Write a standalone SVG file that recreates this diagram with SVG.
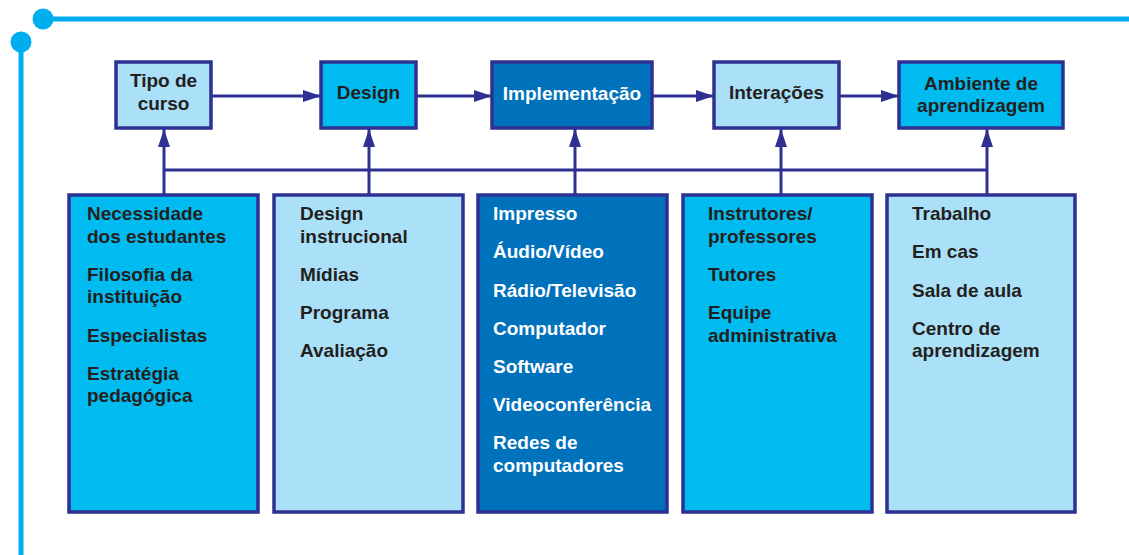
<svg xmlns="http://www.w3.org/2000/svg" width="1129" height="555" viewBox="0 0 1129 555">
<style>
.box{stroke:#2E3192;stroke-width:3.5}
.lb{fill:#ABE0F9}.cy{fill:#00BBF0}.db{fill:#0071BB}
.t{font-family:"Liberation Sans",Arial,sans-serif;font-weight:bold;font-size:19px;fill:#231F20}
.w{fill:#FFFFFF}
.c{text-anchor:middle}
.ln{stroke:#2E3192;stroke-width:3;fill:none}
.deco{stroke:#00AEEF;stroke-width:5;fill:none}
</style>
<defs>
<marker id="ah" viewBox="0 0 18 12" refX="18" refY="6" markerWidth="18" markerHeight="12" markerUnits="userSpaceOnUse" orient="auto">
<path d="M0,0 L18,6 L0,12 Z" fill="#2E3192"/>
</marker>
</defs>
<g id="decoration">
<line class="deco" x1="43" y1="19" x2="1129" y2="19"/>
<circle cx="43" cy="19" r="10.5" fill="#00AEEF"/>
<line class="deco" x1="21" y1="42" x2="21" y2="555"/>
<circle cx="21" cy="42" r="10.5" fill="#00AEEF"/>
</g>
<g id="connectors">
<line class="ln" x1="211" y1="96" x2="321" y2="96" marker-end="url(#ah)"/>
<line class="ln" x1="416" y1="96" x2="492" y2="96" marker-end="url(#ah)"/>
<line class="ln" x1="652" y1="96" x2="714" y2="96" marker-end="url(#ah)"/>
<line class="ln" x1="839" y1="96" x2="899" y2="96" marker-end="url(#ah)"/>
<line class="ln" x1="164" y1="170" x2="987" y2="170"/>
<line class="ln" x1="164" y1="195" x2="164" y2="129" marker-end="url(#ah)"/>
<line class="ln" x1="369" y1="195" x2="369" y2="129" marker-end="url(#ah)"/>
<line class="ln" x1="575" y1="195" x2="575" y2="129" marker-end="url(#ah)"/>
<line class="ln" x1="781" y1="195" x2="781" y2="129" marker-end="url(#ah)"/>
<line class="ln" x1="987" y1="195" x2="987" y2="129" marker-end="url(#ah)"/>
</g>
<g id="tipo">
<rect class="box lb" x="116" y="62" width="95" height="66"/>
<text class="t c" x="163.5" y="87">Tipo de</text>
<text class="t c" x="163.5" y="110">curso</text>
</g>
<g id="design">
<rect class="box cy" x="321" y="62" width="95" height="66"/>
<text class="t c" x="368.5" y="99">Design</text>
</g>
<g id="implementacao">
<rect class="box db" x="492" y="62" width="160" height="66"/>
<text class="t c w" x="572" y="100">Implementação</text>
</g>
<g id="interacoes">
<rect class="box lb" x="714" y="62" width="125" height="66"/>
<text class="t c" x="776.5" y="99">Interações</text>
</g>
<g id="ambiente">
<rect class="box cy" x="899" y="62" width="164" height="66"/>
<text class="t c" x="981" y="90">Ambiente de</text>
<text class="t c" x="981" y="112">aprendizagem</text>
</g>
<g id="box1">
<rect class="box cy" x="69" y="195" width="189" height="317"/>
<text class="t" x="87" y="220">Necessidade</text>
<text class="t" x="87" y="243">dos estudantes</text>
<text class="t" x="87" y="281">Filosofia da</text>
<text class="t" x="87" y="303">instituição</text>
<text class="t" x="87" y="342">Especialistas</text>
<text class="t" x="87" y="380">Estratégia</text>
<text class="t" x="87" y="402">pedagógica</text>
</g>
<g id="box2">
<rect class="box lb" x="274" y="195" width="189" height="317"/>
<text class="t" x="300" y="220">Design</text>
<text class="t" x="300" y="243">instrucional</text>
<text class="t" x="300" y="281">Mídias</text>
<text class="t" x="300" y="319">Programa</text>
<text class="t" x="300" y="357">Avaliação</text>
</g>
<g id="box3">
<rect class="box db" x="478" y="195" width="189" height="317"/>
<text class="t w" x="493" y="220">Impresso</text>
<text class="t w" x="493" y="258">Áudio/Vídeo</text>
<text class="t w" x="493" y="297">Rádio/Televisão</text>
<text class="t w" x="493" y="335">Computador</text>
<text class="t w" x="493" y="373">Software</text>
<text class="t w" x="493" y="411">Videoconferência</text>
<text class="t w" x="493" y="449">Redes de</text>
<text class="t w" x="493" y="472">computadores</text>
</g>
<g id="box4">
<rect class="box cy" x="683" y="195" width="189" height="317"/>
<text class="t" x="708" y="220">Instrutores/</text>
<text class="t" x="708" y="243">professores</text>
<text class="t" x="708" y="281">Tutores</text>
<text class="t" x="708" y="319">Equipe</text>
<text class="t" x="708" y="342">administrativa</text>
</g>
<g id="box5">
<rect class="box lb" x="887" y="195" width="188" height="317"/>
<text class="t" x="912" y="220">Trabalho</text>
<text class="t" x="912" y="258">Em cas</text>
<text class="t" x="912" y="297">Sala de aula</text>
<text class="t" x="912" y="335">Centro de</text>
<text class="t" x="912" y="357">aprendizagem</text>
</g>
</svg>
